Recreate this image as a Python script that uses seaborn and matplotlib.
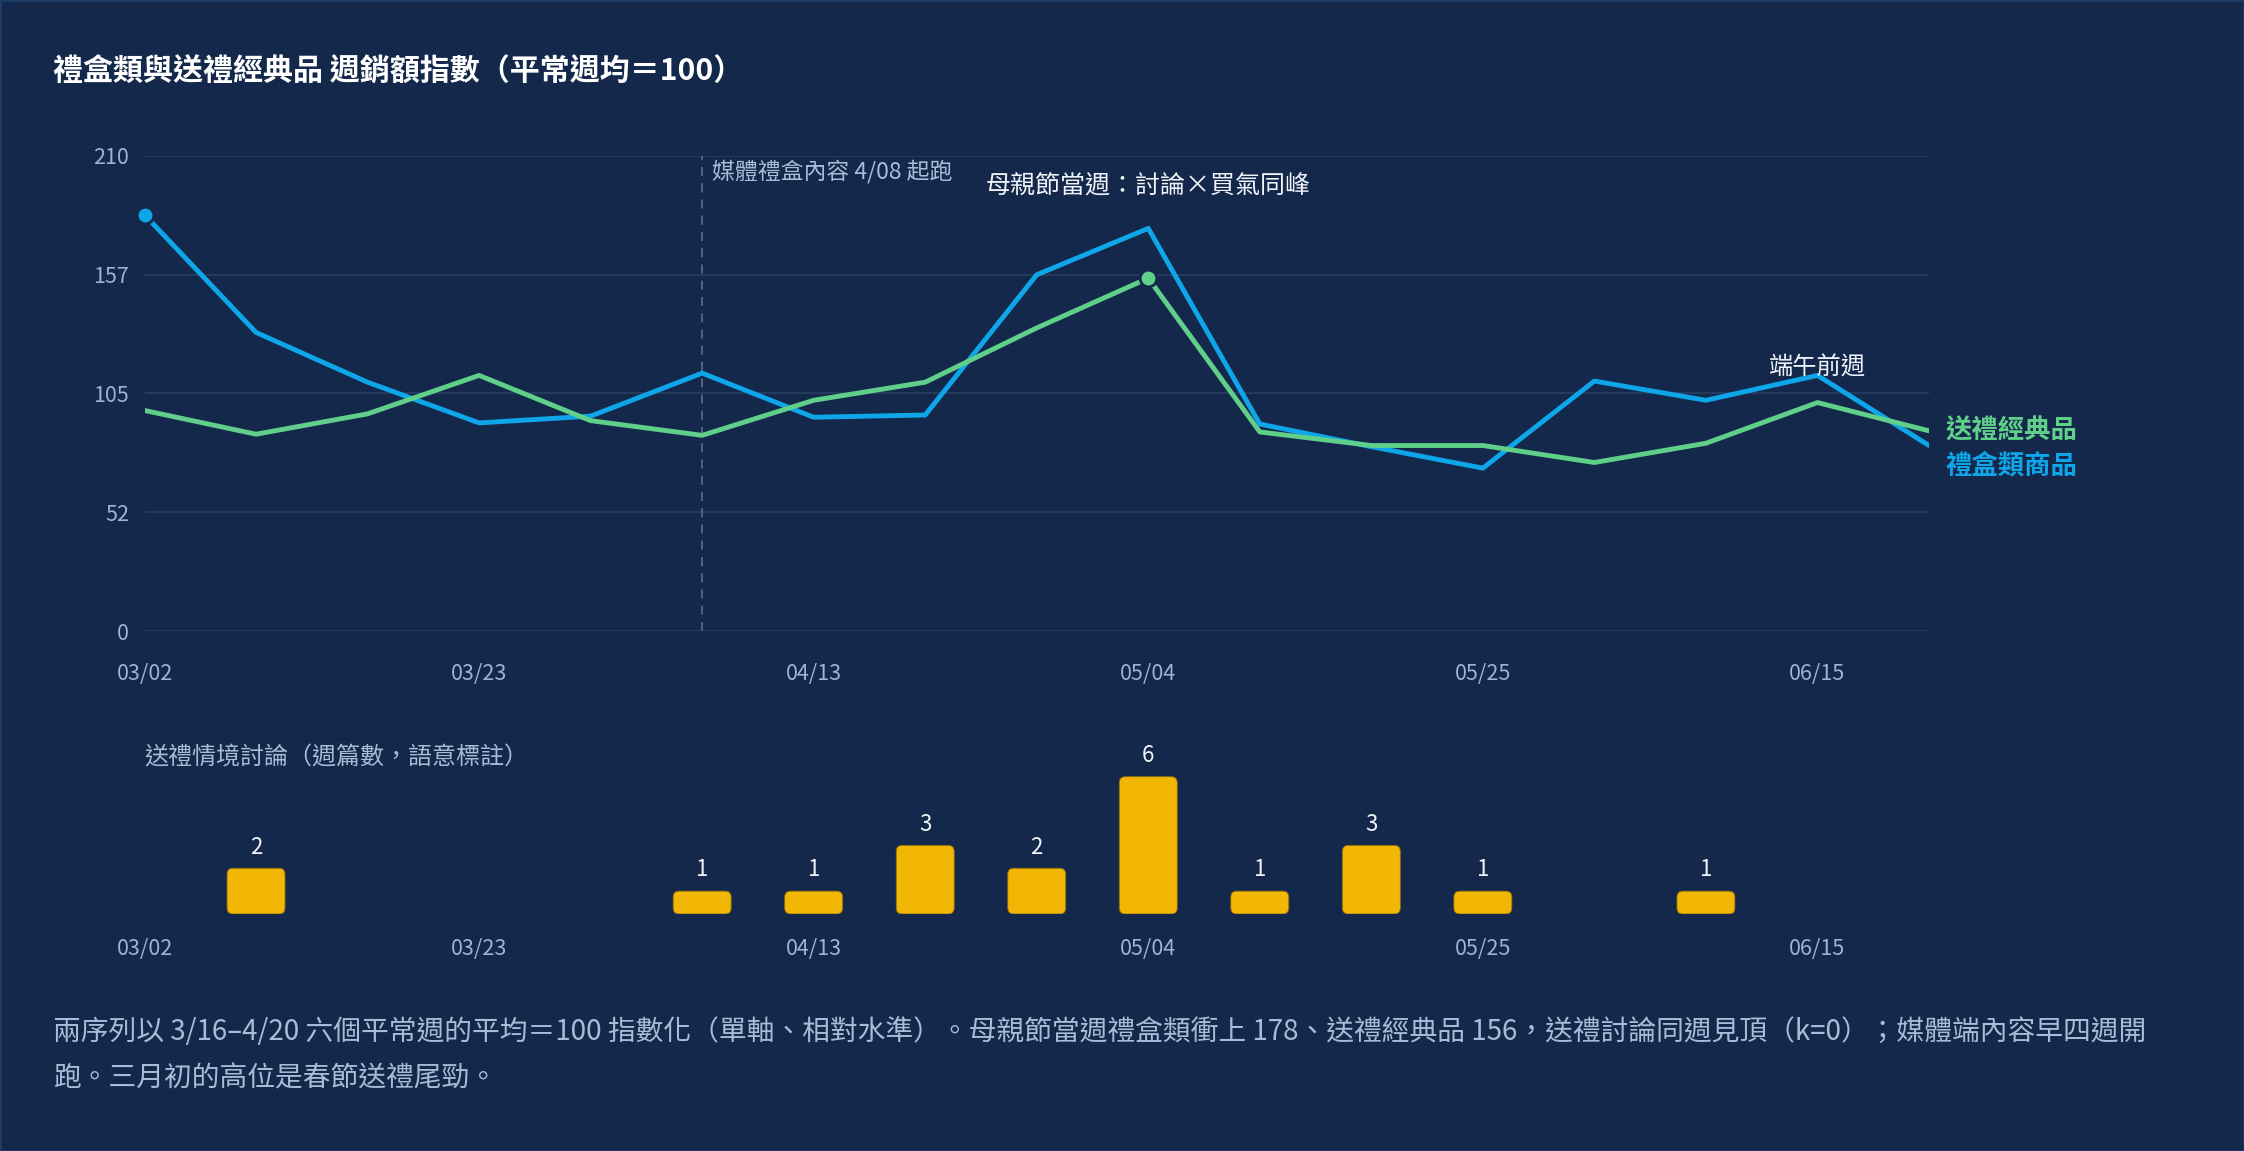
import matplotlib
matplotlib.use("Agg")
import matplotlib.pyplot as plt
from matplotlib.patches import FancyBboxPatch
import pandas as pd
import seaborn as sns

weeks = ["03/02", "03/09", "03/16", "03/23", "03/30", "04/06", "04/13", "04/20", "04/27",
         "05/04", "05/11", "05/18", "05/25", "06/01", "06/08", "06/15", "06/22"]
gift_box = [184, 132, 110, 92, 95, 114, 94.5, 95.5, 157.5, 178, 91.5, 81.5, 72, 110.5, 102, 113, 82]
gift_classic = [97.5, 87, 96, 113, 93, 86.5, 102, 110, 134, 156, 88, 82, 82, 74.5, 83, 101, 88.5]
discussion = [0, 2, 0, 0, 0, 1, 1, 3, 2, 6, 1, 3, 1, 0, 1, 0, 0]

y_ticks = [0, 52.5, 105, 157.5, 210]
y_tick_labels = ["0", "52", "105", "157", "210"]
x_tick_idx = [0, 3, 6, 9, 12, 15]

BG = "#13284a"
BLUE = "#0ea5e9"
GREEN = "#5fcf89"
YELLOW = "#f2b705"
GRID = "#243b5e"
MUTED = "#9fb4d2"
WHITE = "#f0f4fa"

sns.set_theme(style="dark")
plt.rcParams["font.family"] = ["Noto Sans CJK TC", "DejaVu Sans"]

df = pd.DataFrame({"idx": range(len(weeks)), "week": weeks,
                   "gift_box": gift_box, "gift_classic": gift_classic,
                   "discussion": discussion})

W, H = 2244, 1151
fig = plt.figure(figsize=(W / 100, H / 100), dpi=100, facecolor=BG)

# main line chart
ax = fig.add_axes([144.5 / W, 1 - 631 / H, (1929 - 144.5) / W, 475 / H])
ax.set_facecolor(BG)
sns.lineplot(data=df, x="idx", y="gift_box", color=BLUE, lw=3.5, ax=ax, zorder=3)
sns.lineplot(data=df, x="idx", y="gift_classic", color=GREEN, lw=3.5, ax=ax, zorder=4)
ax.set_xlim(0, 16)
ax.set_ylim(0, 210)
ax.set_yticks(y_ticks)
ax.set_yticklabels(y_tick_labels)
ax.set_xticks(x_tick_idx)
ax.set_xticklabels([weeks[i] for i in x_tick_idx])
ax.set_xlabel("")
ax.set_ylabel("")
ax.tick_params(axis="y", length=0, pad=11, labelsize=15.5, labelcolor=MUTED)
ax.tick_params(axis="x", length=0, pad=23, labelsize=15.5, labelcolor=MUTED)
ax.grid(False)
for y in y_ticks:
    ax.axhline(y, color=GRID, lw=1.5, zorder=1)
for s in ax.spines.values():
    s.set_visible(False)

# markers
ax.plot(0, gift_box[0], "o", ms=12, color=BLUE, mec=BG, mew=2, zorder=6, clip_on=False)
ax.plot(9, gift_classic[9], "o", ms=12, color=GREEN, mec=BG, mew=2, zorder=6, clip_on=False)

# media start marker
ax.plot([5, 5], [0, 210], color="#56698a", lw=1.3, ls=(0, (5, 4)), zorder=2)
ax.annotate("媒體禮盒內容 4/08 起跑", xy=(5, 210), xytext=(7, -3), textcoords="offset points",
            ha="left", va="top", fontsize=16.5, color="#a9bdd8")
ax.text(9, 197, "母親節當週：討論×買氣同峰", ha="center", va="center", fontsize=18, color=WHITE)
ax.text(15, 116.5, "端午前週", ha="center", va="center", fontsize=17.5, color=WHITE, zorder=5)

# end labels
ax.annotate("送禮經典品", xy=(16, gift_classic[-1]), xytext=(12, 0), textcoords="offset points",
            ha="left", va="center", fontsize=19, fontweight="bold", color=GREEN, annotation_clip=False)
ax.annotate("禮盒類商品", xy=(16, gift_classic[-1]), xytext=(12, -25), textcoords="offset points",
            ha="left", va="center", fontsize=19, fontweight="bold", color=BLUE, annotation_clip=False)

# discussion bars
bx = fig.add_axes([144.5 / W, 1 - 914 / H, (1929 - 144.5) / W, 157 / H])
bx.set_facecolor(BG)
sns.barplot(data=df, x="idx", y="discussion", color=YELLOW, width=0.52, saturation=1, ax=bx)
bx.set_xlim(0, 16)
bx.set_ylim(0, 6.86)
bx.set_xticks(x_tick_idx)
bx.set_xticklabels([weeks[i] for i in x_tick_idx])
bx.set_yticks([])
bx.set_xlabel("")
bx.set_ylabel("")
bx.grid(False)
bx.tick_params(axis="x", length=0, pad=17, labelsize=15.5, labelcolor=MUTED)
for s in bx.spines.values():
    s.set_visible(False)

# round the bar corners
bb = bx.get_window_extent()
px_x = bb.width / 16
px_y = bb.height / 6.86
r = 6
for p in list(bx.patches):
    x0, w, h = p.get_x(), p.get_width(), p.get_height()
    if h > 0:
        rp = FancyBboxPatch((x0, 0), w, h,
                            boxstyle=f"round,pad=0,rounding_size={r / px_x}",
                            mutation_aspect=px_x / px_y,
                            fc=YELLOW, ec="#8a6a10", lw=0.6, zorder=3)
        bx.add_patch(rp)
    p.remove()

for i, v in enumerate(discussion):
    if v > 0:
        bx.annotate(str(v), xy=(i, v), xytext=(0, 7), textcoords="offset points",
                    ha="center", va="bottom", fontsize=16, color=WHITE, annotation_clip=False)

# texts
fig.text(53 / W, 1 - 72 / H, "禮盒類與送禮經典品 週銷額指數（平常週均＝100）",
         ha="left", va="center", fontsize=21.6, fontweight="bold", color="white")
fig.text(144.5 / W, 1 - 757 / H, "送禮情境討論（週篇數，語意標註）",
         ha="left", va="center", fontsize=17.3, color="#a9bbd6")
fig.text(53 / W, 1 - 1032 / H,
         "兩序列以 3/16–4/20 六個平常週的平均＝100 指數化（單軸、相對水準）。母親節當週禮盒類衝上 178、送禮經典品 156，送禮討論同週見頂（k=0）；媒體端內容早四週開",
         ha="left", va="center", fontsize=20, color="#a9bbd6")
fig.text(53 / W, 1 - 1078 / H, "跑。三月初的高位是春節送禮尾勁。",
         ha="left", va="center", fontsize=20, color="#a9bbd6")

fig.patches.append(plt.Rectangle((0, 0), 1, 1, transform=fig.transFigure, fill=False,
                                 ec="#1e3d66", lw=2))

fig.savefig("out.png", dpi=100, facecolor=BG)
